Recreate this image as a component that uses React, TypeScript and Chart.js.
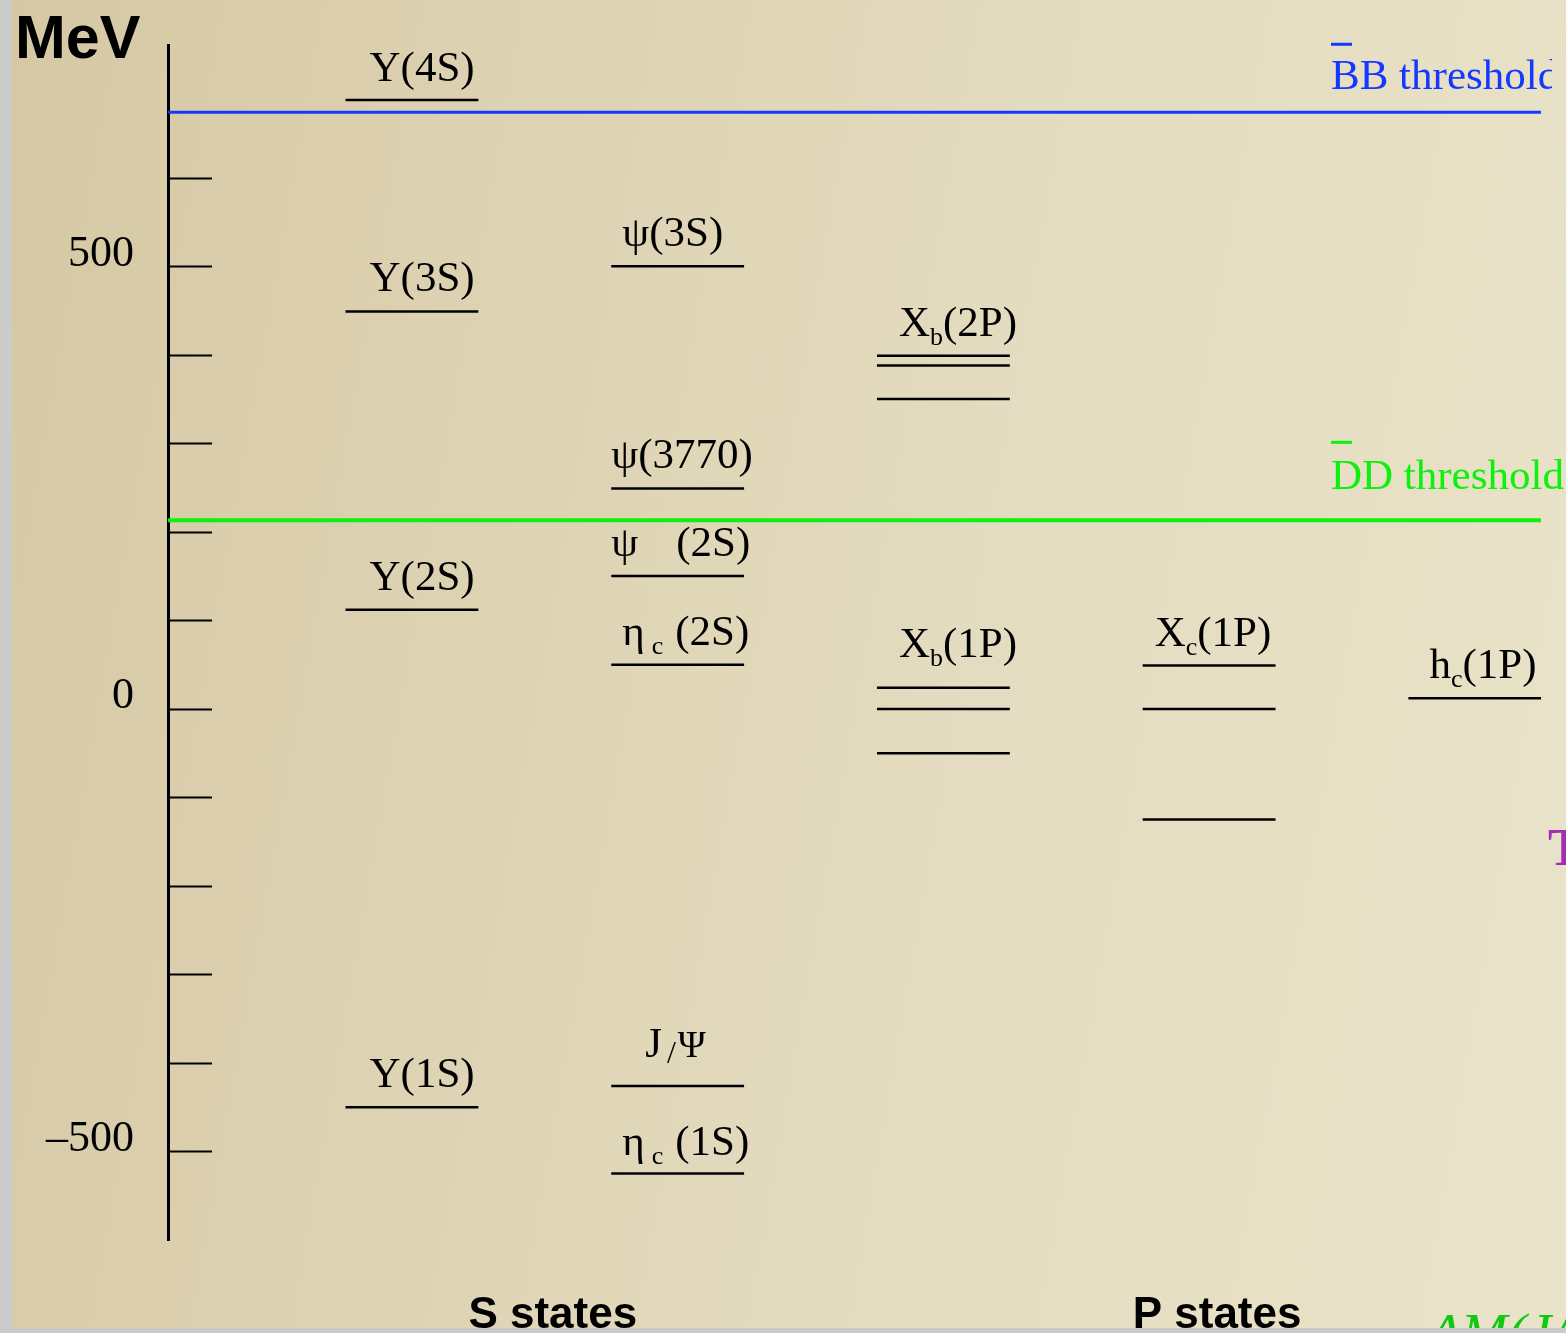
import { useEffect, useRef } from 'react';
import { Chart, registerables } from 'chart.js';

Chart.register(...registerables);

const SERIF = '"Liberation Serif", "Times New Roman", serif';
const SANS = '"Liberation Sans", Arial, Helvetica, sans-serif';

// Level energies in MeV, measured from the 0 MeV reference line.
const UPSILON_LEVELS = [-450, 112, 449, 688]; // Υ(1S), Υ(2S), Υ(3S), Υ(4S)
const CHARMONIUM_S_LEVELS = [-525, -426, 50, 150, 249, 500]; // ηc(1S), J/ψ, ηc(2S), ψ(2S), ψ(3770), ψ(3S)
const CHI_B_2P_LEVELS = [350, 388, 399];
const CHI_B_1P_LEVELS = [-50, 0, 24];
const CHI_C_1P_LEVELS = [-125, 0, 49];
const H_C_1P_LEVELS = [12];

// Open-flavour thresholds (MeV)
const BB_THRESHOLD = 674;
const DD_THRESHOLD = 213;

// Energy axis
const Y_MIN = -600;
const Y_MAX = 750;
const Y_TICKS = [-500, -400, -300, -200, -100, 0, 100, 200, 300, 400, 500, 600];
const Y_TICK_LABELS = [-500, 0, 500];

// Column slots along the horizontal axis
const COLUMN_SLOTS = [1, 2, 3, 4, 5];
const X_MIN = 0.082;
const X_MAX = 5.249;
const LEVEL_HALF_WIDTH = 0.25;

const CATEGORY_NAMES = ['S states', 'P states'];
const CATEGORY_SLOTS = [1.53, 4.03];

type Seg = { t: string; sub?: boolean; size?: number; dy?: number; dx?: number };
type LevelLabel = { slot: number; energy: number; segs: Seg[]; offX: number; offY: number };

const LEVEL_LABELS: LevelLabel[] = [
  { slot: 1, energy: UPSILON_LEVELS[3], segs: [{ t: 'Υ(4S)' }], offX: 24, offY: 19 },
  { slot: 1, energy: UPSILON_LEVELS[2], segs: [{ t: 'Υ(3S)' }], offX: 24, offY: 20 },
  { slot: 1, energy: UPSILON_LEVELS[1], segs: [{ t: 'Υ(2S)' }], offX: 24, offY: 20 },
  { slot: 1, energy: UPSILON_LEVELS[0], segs: [{ t: 'Υ(1S)' }], offX: 24, offY: 20 },
  { slot: 2, energy: CHARMONIUM_S_LEVELS[5], segs: [{ t: 'ψ(3S)' }], offX: 11, offY: 20 },
  { slot: 2, energy: CHARMONIUM_S_LEVELS[4], segs: [{ t: 'ψ(3770)' }], offX: 0, offY: 20 },
  { slot: 2, energy: CHARMONIUM_S_LEVELS[3], segs: [{ t: 'ψ' }, { t: '(2S)', dx: 38 }], offX: 0, offY: 20 },
  { slot: 2, energy: CHARMONIUM_S_LEVELS[2], segs: [{ t: 'η' }, { t: 'c', sub: true, dx: 7 }, { t: '(2S)', dx: 12 }], offX: 11, offY: 20 },
  { slot: 2, energy: CHARMONIUM_S_LEVELS[1], segs: [{ t: 'J' }, { t: '/', size: 32, dy: 6, dx: 5 }, { t: 'Ψ', size: 38, dx: 2 }], offX: 34, offY: 29 },
  { slot: 2, energy: CHARMONIUM_S_LEVELS[0], segs: [{ t: 'η' }, { t: 'c', sub: true, dx: 7 }, { t: '(1S)', dx: 12 }], offX: 11, offY: 19 },
  { slot: 3, energy: CHI_B_2P_LEVELS[2], segs: [{ t: 'X' }, { t: 'b', sub: true }, { t: '(2P)' }], offX: 22, offY: 20 },
  { slot: 3, energy: CHI_B_1P_LEVELS[2], segs: [{ t: 'X' }, { t: 'b', sub: true }, { t: '(1P)' }], offX: 22, offY: 31 },
  { slot: 4, energy: CHI_C_1P_LEVELS[2], segs: [{ t: 'X' }, { t: 'c', sub: true }, { t: '(1P)' }], offX: 12, offY: 20 },
  { slot: 5, energy: H_C_1P_LEVELS[0], segs: [{ t: 'h' }, { t: 'c', sub: true }, { t: '(1P)' }], offX: 21, offY: 20 },
];

const BLUE = '#1438ff';
const GREEN = '#0ef00e';

function drawSegments(ctx: CanvasRenderingContext2D, segs: Seg[], x: number, y: number, baseSize: number) {
  let cx = x;
  for (const s of segs) {
    const size = s.size ?? (s.sub ? 26 : baseSize);
    const dy = s.dy ?? (s.sub ? 9 : 0);
    cx += s.dx ?? 0;
    ctx.font = `${size}px ${SERIF}`;
    ctx.fillText(s.t, cx, y + dy);
    cx += ctx.measureText(s.t).width;
  }
}

const diagramPlugin = {
  id: 'levelDiagram',
  afterDraw(chart: any) {
    const ctx: CanvasRenderingContext2D = chart.ctx;
    const xs = chart.scales.x;
    const ys = chart.scales.y;
    const area = chart.chartArea;
    ctx.save();

    // inward tick marks on the energy axis
    ctx.strokeStyle = '#000';
    ctx.lineWidth = 2;
    for (const t of ys.ticks) {
      const py = Math.round(ys.getPixelForValue(t.value)) + 0.5;
      ctx.beginPath();
      ctx.moveTo(area.left, py);
      ctx.lineTo(area.left + 44, py);
      ctx.stroke();
    }

    // state labels above each level
    ctx.fillStyle = '#000';
    ctx.textBaseline = 'alphabetic';
    ctx.textAlign = 'left';
    for (const l of LEVEL_LABELS) {
      const left = xs.getPixelForValue(l.slot - LEVEL_HALF_WIDTH);
      const py = ys.getPixelForValue(l.energy);
      drawSegments(ctx, l.segs, left + l.offX, py - l.offY, 43);
    }

    // threshold labels
    const bbY = ys.getPixelForValue(BB_THRESHOLD);
    const ddY = ys.getPixelForValue(DD_THRESHOLD);
    const tx = 1319;
    ctx.save();
    ctx.beginPath();
    ctx.rect(0, 0, 1540, chart.height);
    ctx.clip();
    ctx.fillStyle = BLUE;
    ctx.font = `43px ${SERIF}`;
    ctx.fillText('BB threshold', tx, bbY - 23);
    ctx.fillRect(tx, bbY - 69.5, 21, 3);
    ctx.restore();
    ctx.fillStyle = GREEN;
    ctx.font = `43px ${SERIF}`;
    ctx.fillText('DD threshold', tx, ddY - 31);
    ctx.fillRect(tx, ddY - 79.5, 21, 3);

    // fragments of labels running off the right edge
    ctx.fillStyle = '#a22eb4';
    ctx.font = `bold 52px ${SERIF}`;
    ctx.fillText('T', 1536, 865);
    ctx.fillStyle = '#12c812';
    ctx.font = `italic 56px ${SERIF}`;
    ctx.fillText('ΔM(J/ψ)', 1416, 1353);

    // unit label
    ctx.fillStyle = '#000';
    ctx.font = `bold 61px ${SANS}`;
    ctx.fillText('MeV', 3, 58);

    // category labels
    ctx.font = `bold 44px ${SANS}`;
    ctx.textAlign = 'center';
    CATEGORY_NAMES.forEach((name, i) => {
      ctx.fillText(name, xs.getPixelForValue(CATEGORY_SLOTS[i]), 1328);
    });

    ctx.restore();
  },
};

function levelDataset(slot: number, energy: number) {
  return {
    data: [
      { x: slot - LEVEL_HALF_WIDTH, y: energy },
      { x: slot + LEVEL_HALF_WIDTH, y: energy },
    ],
    borderColor: '#000',
    borderWidth: 2.5,
    pointRadius: 0,
    fill: false,
  };
}

function thresholdDataset(energy: number, color: string, width: number) {
  return {
    data: [
      { x: X_MIN, y: energy },
      { x: X_MAX, y: energy },
    ],
    borderColor: color,
    borderWidth: width,
    pointRadius: 0,
    fill: false,
  };
}

export default function App() {
  const canvasRef = useRef<HTMLCanvasElement | null>(null);

  useEffect(() => {
    const canvas = canvasRef.current;
    if (!canvas) return;
    const columns = [
      UPSILON_LEVELS,
      CHARMONIUM_S_LEVELS,
      [...CHI_B_2P_LEVELS, ...CHI_B_1P_LEVELS],
      CHI_C_1P_LEVELS,
      H_C_1P_LEVELS,
    ];
    const datasets: any[] = [];
    columns.forEach((levels, i) => {
      levels.forEach((e) => datasets.push(levelDataset(COLUMN_SLOTS[i], e)));
    });
    datasets.push(thresholdDataset(BB_THRESHOLD, BLUE, 3));
    datasets.push(thresholdDataset(DD_THRESHOLD, GREEN, 4));

    const chart = new Chart(canvas, {
      type: 'line',
      data: { datasets },
      options: {
        animation: false,
        responsive: false,
        devicePixelRatio: 1,
        layout: { padding: { left: 0, top: 45, right: 25, bottom: 88 } },
        plugins: { legend: { display: false }, tooltip: { enabled: false } },
        scales: {
          x: { type: 'linear', min: X_MIN, max: X_MAX, display: false },
          y: {
            type: 'linear',
            min: Y_MIN,
            max: Y_MAX,
            afterBuildTicks: (axis: any) => {
              axis.ticks = Y_TICKS.map((v) => ({ value: v }));
            },
            afterFit: (axis: any) => {
              axis.width = 156;
              axis.paddingTop = 0;
              axis.paddingBottom = 0;
            },
            grid: { display: true, drawOnChartArea: false, drawTicks: false },
            border: { display: true, color: '#000', width: 3 },
            ticks: {
              autoSkip: false,
              padding: 34,
              labelOffset: -12,
              color: '#000',
              font: { family: SERIF, size: 44 },
              callback: (v: any) =>
                Y_TICK_LABELS.includes(Number(v)) ? (Number(v) < 0 ? '–' + Math.abs(Number(v)) : String(v)) : '',
            },
          },
        },
      } as any,
      plugins: [diagramPlugin],
    });
    return () => chart.destroy();
  }, []);

  return (
    <div
      style={{
        position: 'absolute',
        left: 0,
        top: 0,
        width: 1566,
        height: 1333,
        background: '#cbcbcb',
        overflow: 'hidden',
      }}
    >
      <div
        style={{
          position: 'absolute',
          left: 12,
          top: 0,
          width: 1554,
          height: 1328,
          background:
            'linear-gradient(100deg, #d6c8a4 0%, #ddd2b2 30%, #e4dcc0 60%, #e9e3c9 100%)',
        }}
      >
        <canvas ref={canvasRef} width={1554} height={1328} style={{ width: 1554, height: 1328, display: 'block' }} />
      </div>
    </div>
  );
}
